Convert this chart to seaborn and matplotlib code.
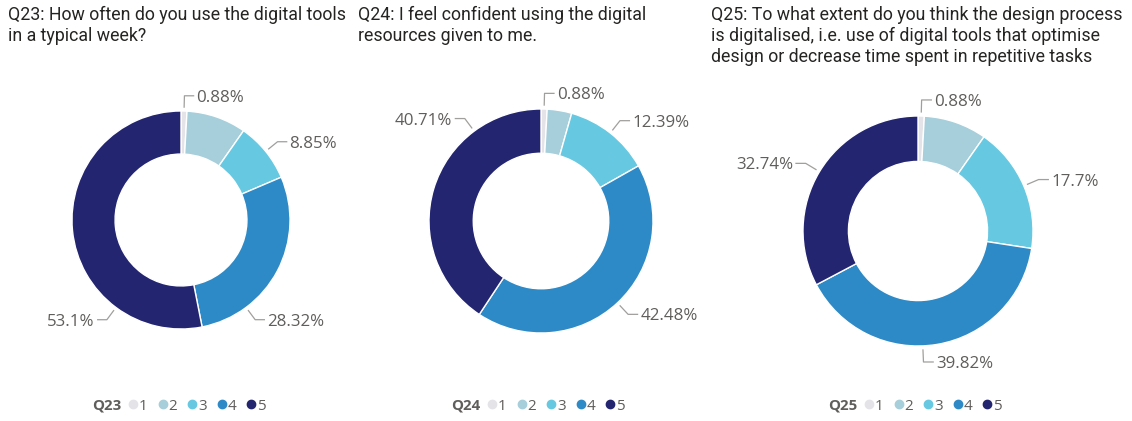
import numpy as np
import matplotlib
matplotlib.use("Agg")
import matplotlib.pyplot as plt
from matplotlib.lines import Line2D
import seaborn as sns

# ---- data -------------------------------------------------------------
categories = ["1", "2", "3", "4", "5"]

q23_title = "Q23: How often do you use the digital tools\nin a typical week?"
q23_values = [0.88, 8.85, 8.85, 28.32, 53.10]
q23_labels = ["0.88%", None, "8.85%", "28.32%", "53.1%"]

q24_title = "Q24: I feel confident using the digital\nresources given to me."
q24_values = [0.88, 3.54, 12.39, 42.48, 40.71]
q24_labels = ["0.88%", None, "12.39%", "42.48%", "40.71%"]

q25_title = ("Q25: To what extent do you think the design process\n"
             "is digitalised, i.e. use of digital tools that optimise\n"
             "design or decrease time spent in repetitive tasks")
q25_values = [0.88, 8.85, 17.70, 39.82, 32.74]
q25_labels = ["0.88%", None, "17.7%", "39.82%", "32.74%"]

legend_names = ["Q23", "Q24", "Q25"]

# ---- style ------------------------------------------------------------
sns.set_theme(style="white")
palette = sns.color_palette(["#E4E4E8", "#A6CEDB", "#66C8E1", "#2E8AC6", "#232570"])
plt.rcParams["font.family"] = ["Open Sans", "DejaVu Sans"]

TITLE_COLOR = "#252423"
LABEL_COLOR = "#605E5C"
LEADER_COLOR = "#A19F9D"

W, H = 1132, 421
fig = plt.figure(figsize=(W / 100, H / 100), dpi=100)
fig.patch.set_facecolor("white")


def fx(x):
    return x / W


def fy(y):
    return 1 - y / H


def donut(cx, cy, r, values, labels, anchor_frac):
    """Place a donut centred at pixel (cx, cy) with outer radius r pixels."""
    k = 1.7
    ax = fig.add_axes([fx(cx - k * r), fy(cy + k * r), 2 * k * r / W, 2 * k * r / H])
    ax.pie(values, colors=palette, startangle=90, counterclock=False, radius=1.0,
           wedgeprops=dict(width=0.395, edgecolor="white", linewidth=1.0))
    ax.set_xlim(-k, k)
    ax.set_ylim(-k, k)
    ax.set_aspect("equal")
    ax.axis("off")
    ax.patch.set_alpha(0)
    total = float(sum(values))
    start = 0.0
    for v, lab, f in zip(values, labels, anchor_frac):
        a0 = start / total * 360
        a1 = (start + v) / total * 360
        start += v
        if lab is None:
            continue
        ang = np.deg2rad(a0 + (a1 - a0) * f)
        dx, dy = np.sin(ang), np.cos(ang)
        p0 = (1.03 * dx, 1.03 * dy)
        p1 = (1.14 * dx, 1.14 * dy)
        side = 1 if dx >= 0 else -1
        p2 = (p1[0] + side * 0.09, p1[1])
        ax.plot([p0[0], p1[0], p2[0]], [p0[1], p1[1], p2[1]],
                color=LEADER_COLOR, lw=0.9, clip_on=False, solid_capstyle="butt")
        ax.text(p2[0] + side * 0.02, p2[1], lab, ha="left" if side > 0 else "right",
                va="center_baseline", fontsize=12.2, color=LABEL_COLOR, clip_on=False)
    return ax


def legend(name, first_dot_x, y):
    fig.text(fx(first_dot_x - 12), fy(y), name, ha="right", va="center_baseline",
             fontsize=10.8, fontweight="bold", color=LABEL_COLOR)
    for i, (cat, col) in enumerate(zip(categories, palette)):
        x = first_dot_x + i * 29.5
        fig.add_artist(Line2D([fx(x)], [fy(y)], marker="o", markersize=6.0,
                              color=col, linestyle="none", transform=fig.transFigure))
        fig.text(fx(x + 6), fy(y), cat, ha="left", va="center_baseline",
                 fontsize=11, color=LABEL_COLOR)


# ---- titles -----------------------------------------------------------
for tx, title in [(8, q23_title), (358, q24_title), (711, q25_title)]:
    fig.text(fx(tx), fy(6), title, ha="left", va="top", fontsize=12.8,
             color=TITLE_COLOR, family=["Roboto", "DejaVu Sans"], linespacing=1.22)

# ---- donuts -----------------------------------------------------------
donut(181, 220, 109, q23_values, q23_labels, [0.5, 0.5, 0.5, 0.75, 0.25])
donut(541, 221, 112, q24_values, q24_labels, [0.5, 0.5, 0.5, 0.5, 0.75])
donut(918, 231, 115, q25_values, q25_labels, [0.5, 0.5, 0.5, 0.55, 0.5])

# ---- legends ----------------------------------------------------------
for name, x0 in zip(legend_names, [133, 492, 869]):
    legend(name, x0, 404)

fig.savefig("out.png", dpi=100, facecolor="white")
